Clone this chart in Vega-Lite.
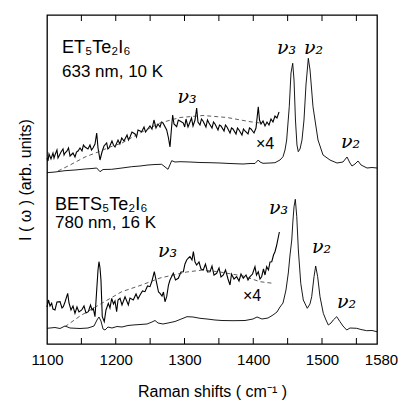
{
  "$schema": "https://vega.github.io/schema/vega-lite/v6.json",
  "width": 330,
  "height": 329,
  "autosize": {"type": "none"},
  "padding": {"left": 47, "top": 15, "right": 21, "bottom": 60},
  "background": "white",
  "config": {
    "view": {"stroke": "#000", "strokeWidth": 1.3},
    "axis": {"grid": false, "labelFont": "Liberation Sans", "titleFont": "Liberation Sans", "labelColor": "#000", "titleColor": "#000", "tickColor": "#000"},
    "text": {"font": "Liberation Sans", "color": "#000"}
  },
  "datasets": {
    "spectra": [
      {"s":"ET1","x":1100,"y":171.3},{"s":"ET1","x":1111.6,"y":172},{"s":"ET1","x":1126.2,"y":173.3},{"s":"ET1","x":1140.7,"y":174},{"s":"ET1","x":1155.3,"y":175},{"s":"ET1","x":1165.5,"y":175.5},{"s":"ET1","x":1172.3,"y":176},{"s":"ET1","x":1177.1,"y":172.3},{"s":"ET1","x":1181.5,"y":174.5},{"s":"ET1","x":1194.1,"y":174.7},{"s":"ET1","x":1209.1,"y":176},{"s":"ET1","x":1223.2,"y":177.3},{"s":"ET1","x":1235.3,"y":178},{"s":"ET1","x":1246.9,"y":179},{"s":"ET1","x":1257.1,"y":179.5},{"s":"ET1","x":1266.8,"y":179.7},{"s":"ET1","x":1276,"y":174.7},{"s":"ET1","x":1281.4,"y":183.3},{"s":"ET1","x":1286.2,"y":182},{"s":"ET1","x":1293.5,"y":182.3},{"s":"ET1","x":1308,"y":182},{"s":"ET1","x":1322.5,"y":181.5},{"s":"ET1","x":1337.1,"y":181.3},{"s":"ET1","x":1351.6,"y":181},{"s":"ET1","x":1366.2,"y":180.5},{"s":"ET1","x":1385.1,"y":180},{"s":"ET1","x":1395.3,"y":180.5},{"s":"ET1","x":1402.5,"y":180.5},{"s":"ET1","x":1407.3,"y":184},{"s":"ET1","x":1409.8,"y":182},{"s":"ET1","x":1414.2,"y":180.7},{"s":"ET1","x":1424.4,"y":181},{"s":"ET1","x":1431.6,"y":181.3},{"s":"ET1","x":1438.9,"y":184},{"s":"ET1","x":1443.3,"y":187.3},{"s":"ET1","x":1446.2,"y":194},{"s":"ET1","x":1448.6,"y":204},{"s":"ET1","x":1452.4,"y":237.3},{"s":"ET1","x":1454.9,"y":271},{"s":"ET1","x":1457.4,"y":280.7},{"s":"ET1","x":1459.3,"y":264},{"s":"ET1","x":1461.4,"y":224},{"s":"ET1","x":1463.6,"y":199},{"s":"ET1","x":1465.5,"y":192.3},{"s":"ET1","x":1468,"y":195},{"s":"ET1","x":1470.9,"y":204},{"s":"ET1","x":1473.8,"y":224},{"s":"ET1","x":1476.7,"y":259},{"s":"ET1","x":1480.1,"y":285.7},{"s":"ET1","x":1482.6,"y":274},{"s":"ET1","x":1486.9,"y":237.3},{"s":"ET1","x":1494.2,"y":204},{"s":"ET1","x":1501.5,"y":189},{"s":"ET1","x":1511.6,"y":184},{"s":"ET1","x":1521.8,"y":181},{"s":"ET1","x":1530.5,"y":182},{"s":"ET1","x":1536.4,"y":187},{"s":"ET1","x":1540.7,"y":181},{"s":"ET1","x":1543.6,"y":178},{"s":"ET1","x":1548,"y":180},{"s":"ET1","x":1552.4,"y":183},{"s":"ET1","x":1556.8,"y":179},{"s":"ET1","x":1565.5,"y":176},{"s":"ET1","x":1572.7,"y":176.5},{"s":"ET1","x":1580,"y":176},

      {"s":"ET4","x":1100,"y":186},{"s":"ET4","x":1101.5,"y":183},{"s":"ET4","x":1102.9,"y":190},{"s":"ET4","x":1105.8,"y":185},{"s":"ET4","x":1108.7,"y":191},{"s":"ET4","x":1110.2,"y":186},{"s":"ET4","x":1111.6,"y":189},{"s":"ET4","x":1114.5,"y":194},{"s":"ET4","x":1116,"y":186},{"s":"ET4","x":1117.5,"y":188},{"s":"ET4","x":1120.4,"y":192},{"s":"ET4","x":1123.3,"y":195},{"s":"ET4","x":1124.8,"y":189},{"s":"ET4","x":1126.2,"y":191},{"s":"ET4","x":1129.1,"y":193},{"s":"ET4","x":1131.3,"y":196},{"s":"ET4","x":1133.5,"y":188},{"s":"ET4","x":1137.8,"y":191},{"s":"ET4","x":1140.7,"y":187},{"s":"ET4","x":1142.9,"y":192},{"s":"ET4","x":1145.1,"y":193},{"s":"ET4","x":1148,"y":196},{"s":"ET4","x":1150.9,"y":193},{"s":"ET4","x":1153,"y":199},{"s":"ET4","x":1155.3,"y":197},{"s":"ET4","x":1159.6,"y":195},{"s":"ET4","x":1162.5,"y":199},{"s":"ET4","x":1164.7,"y":194},{"s":"ET4","x":1166.9,"y":196},{"s":"ET4","x":1169.8,"y":200},{"s":"ET4","x":1172.3,"y":211},{"s":"ET4","x":1174.2,"y":196},{"s":"ET4","x":1177.1,"y":184},{"s":"ET4","x":1180,"y":192},{"s":"ET4","x":1182.9,"y":198},{"s":"ET4","x":1186.8,"y":201},{"s":"ET4","x":1188.5,"y":195},{"s":"ET4","x":1190.2,"y":196},{"s":"ET4","x":1194.5,"y":203},{"s":"ET4","x":1196.7,"y":199},{"s":"ET4","x":1198.9,"y":197},{"s":"ET4","x":1203.3,"y":204},{"s":"ET4","x":1206,"y":200},{"s":"ET4","x":1208.7,"y":206},{"s":"ET4","x":1212,"y":203},{"s":"ET4","x":1216.4,"y":209},{"s":"ET4","x":1218.5,"y":204},{"s":"ET4","x":1220.7,"y":207},{"s":"ET4","x":1223.6,"y":212},{"s":"ET4","x":1228,"y":210},{"s":"ET4","x":1230.2,"y":207},{"s":"ET4","x":1232.4,"y":214},{"s":"ET4","x":1237.7,"y":212.3},{"s":"ET4","x":1241.1,"y":217},{"s":"ET4","x":1243.3,"y":212},{"s":"ET4","x":1245.5,"y":214},{"s":"ET4","x":1249.8,"y":218},{"s":"ET4","x":1252.7,"y":215},{"s":"ET4","x":1255.6,"y":224},{"s":"ET4","x":1258.5,"y":216},{"s":"ET4","x":1261.5,"y":220},{"s":"ET4","x":1264.4,"y":217},{"s":"ET4","x":1266.5,"y":222},{"s":"ET4","x":1268.7,"y":221},{"s":"ET4","x":1274.1,"y":214},{"s":"ET4","x":1276.7,"y":206},{"s":"ET4","x":1278.9,"y":197},{"s":"ET4","x":1281.1,"y":216},{"s":"ET4","x":1282.8,"y":229},{"s":"ET4","x":1284.7,"y":220},{"s":"ET4","x":1288.6,"y":217.3},{"s":"ET4","x":1291,"y":224},{"s":"ET4","x":1293.5,"y":223},{"s":"ET4","x":1298.3,"y":221},{"s":"ET4","x":1300.3,"y":217},{"s":"ET4","x":1302.2,"y":225},{"s":"ET4","x":1305.1,"y":217},{"s":"ET4","x":1308,"y":222},{"s":"ET4","x":1310.2,"y":226},{"s":"ET4","x":1312.4,"y":218},{"s":"ET4","x":1315.3,"y":224},{"s":"ET4","x":1317.7,"y":236},{"s":"ET4","x":1319.6,"y":222},{"s":"ET4","x":1322.5,"y":219},{"s":"ET4","x":1324.7,"y":225},{"s":"ET4","x":1326.9,"y":223},{"s":"ET4","x":1331.2,"y":217},{"s":"ET4","x":1333.4,"y":224},{"s":"ET4","x":1335.6,"y":221},{"s":"ET4","x":1340,"y":216},{"s":"ET4","x":1342.2,"y":222},{"s":"ET4","x":1344.4,"y":220},{"s":"ET4","x":1348.7,"y":214},{"s":"ET4","x":1350.9,"y":219},{"s":"ET4","x":1353.1,"y":218},{"s":"ET4","x":1357.5,"y":213},{"s":"ET4","x":1359.6,"y":219},{"s":"ET4","x":1361.8,"y":217},{"s":"ET4","x":1366.2,"y":211},{"s":"ET4","x":1368.4,"y":216},{"s":"ET4","x":1370.5,"y":215},{"s":"ET4","x":1374.9,"y":210},{"s":"ET4","x":1377.1,"y":216},{"s":"ET4","x":1379.3,"y":214},{"s":"ET4","x":1383.6,"y":209},{"s":"ET4","x":1385.8,"y":215},{"s":"ET4","x":1388,"y":213},{"s":"ET4","x":1392.4,"y":210},{"s":"ET4","x":1394.5,"y":216},{"s":"ET4","x":1396.7,"y":215},{"s":"ET4","x":1401.1,"y":211},{"s":"ET4","x":1404,"y":216},{"s":"ET4","x":1407.3,"y":237.3},{"s":"ET4","x":1409.1,"y":224},{"s":"ET4","x":1411.3,"y":220},{"s":"ET4","x":1414.2,"y":223},{"s":"ET4","x":1417.1,"y":218},{"s":"ET4","x":1420,"y":222},{"s":"ET4","x":1422.9,"y":219},{"s":"ET4","x":1425.8,"y":225},{"s":"ET4","x":1428.7,"y":222},{"s":"ET4","x":1431.6,"y":228},{"s":"ET4","x":1434.5,"y":226},{"s":"ET4","x":1437.5,"y":232},

      {"s":"BE1","x":1100,"y":15.7},{"s":"BE1","x":1111.6,"y":16.5},{"s":"BE1","x":1118.9,"y":15.5},{"s":"BE1","x":1126.2,"y":18},{"s":"BE1","x":1133.5,"y":16},{"s":"BE1","x":1148,"y":15.5},{"s":"BE1","x":1159.6,"y":16},{"s":"BE1","x":1168.4,"y":18},{"s":"BE1","x":1172.7,"y":24},{"s":"BE1","x":1175.6,"y":27},{"s":"BE1","x":1178.5,"y":23},{"s":"BE1","x":1181.5,"y":15},{"s":"BE1","x":1184.4,"y":14},{"s":"BE1","x":1188.7,"y":17},{"s":"BE1","x":1194.5,"y":16},{"s":"BE1","x":1201.8,"y":17.5},{"s":"BE1","x":1209.1,"y":17},{"s":"BE1","x":1217.8,"y":18.5},{"s":"BE1","x":1225.1,"y":19},{"s":"BE1","x":1235.3,"y":19.5},{"s":"BE1","x":1245.5,"y":20},{"s":"BE1","x":1252.7,"y":22},{"s":"BE1","x":1257.1,"y":23.5},{"s":"BE1","x":1261.5,"y":21},{"s":"BE1","x":1268.7,"y":20},{"s":"BE1","x":1276,"y":21},{"s":"BE1","x":1286.2,"y":22.5},{"s":"BE1","x":1293.5,"y":24.5},{"s":"BE1","x":1303.6,"y":27.3},{"s":"BE1","x":1312.4,"y":27},{"s":"BE1","x":1322.5,"y":25.7},{"s":"BE1","x":1332.7,"y":25},{"s":"BE1","x":1344.4,"y":24},{"s":"BE1","x":1354.5,"y":23.5},{"s":"BE1","x":1370.5,"y":23.3},{"s":"BE1","x":1388,"y":23.5},{"s":"BE1","x":1399.6,"y":25},{"s":"BE1","x":1405.5,"y":27},{"s":"BE1","x":1412.7,"y":25},{"s":"BE1","x":1421.5,"y":26},{"s":"BE1","x":1428.7,"y":29},{"s":"BE1","x":1434.5,"y":32},{"s":"BE1","x":1438.9,"y":37},{"s":"BE1","x":1443.3,"y":41},{"s":"BE1","x":1447.6,"y":54},{"s":"BE1","x":1451,"y":71},{"s":"BE1","x":1453.5,"y":89},{"s":"BE1","x":1456,"y":104},{"s":"BE1","x":1457.8,"y":124},{"s":"BE1","x":1459.3,"y":137.3},{"s":"BE1","x":1461.2,"y":144.7},{"s":"BE1","x":1463.3,"y":127.3},{"s":"BE1","x":1465.6,"y":94},{"s":"BE1","x":1469.1,"y":60.7},{"s":"BE1","x":1472.8,"y":44},{"s":"BE1","x":1478.6,"y":35.7},{"s":"BE1","x":1482.5,"y":40},{"s":"BE1","x":1485,"y":47.3},{"s":"BE1","x":1488.4,"y":67.3},{"s":"BE1","x":1490.8,"y":78},{"s":"BE1","x":1493.7,"y":67.3},{"s":"BE1","x":1497.1,"y":47.3},{"s":"BE1","x":1501.9,"y":30.7},{"s":"BE1","x":1505.8,"y":24},{"s":"BE1","x":1509.2,"y":19},{"s":"BE1","x":1513.1,"y":21},{"s":"BE1","x":1516.4,"y":24},{"s":"BE1","x":1521.4,"y":27.3},{"s":"BE1","x":1526.2,"y":22.3},{"s":"BE1","x":1530.5,"y":18},{"s":"BE1","x":1535.9,"y":14},{"s":"BE1","x":1540.7,"y":16},{"s":"BE1","x":1550.4,"y":15.7},{"s":"BE1","x":1556.7,"y":14.5},{"s":"BE1","x":1565,"y":13.3},{"s":"BE1","x":1572.7,"y":13.5},{"s":"BE1","x":1580,"y":12.3},

      {"s":"BE4","x":1100,"y":37},{"s":"BE4","x":1102.2,"y":44},{"s":"BE4","x":1104.4,"y":38},{"s":"BE4","x":1106.8,"y":40.7},{"s":"BE4","x":1108.7,"y":35},{"s":"BE4","x":1111.6,"y":34},{"s":"BE4","x":1114.5,"y":42},{"s":"BE4","x":1118.9,"y":42.3},{"s":"BE4","x":1121.8,"y":36},{"s":"BE4","x":1123.7,"y":37.3},{"s":"BE4","x":1126.2,"y":42},{"s":"BE4","x":1130.1,"y":50.7},{"s":"BE4","x":1132,"y":41},{"s":"BE4","x":1134.9,"y":34},{"s":"BE4","x":1137.8,"y":38},{"s":"BE4","x":1140.7,"y":30.7},{"s":"BE4","x":1143.6,"y":37},{"s":"BE4","x":1146.5,"y":32},{"s":"BE4","x":1150.5,"y":34},{"s":"BE4","x":1153.8,"y":38},{"s":"BE4","x":1156.7,"y":31},{"s":"BE4","x":1160.1,"y":32.3},{"s":"BE4","x":1163.3,"y":39},{"s":"BE4","x":1165.5,"y":34},{"s":"BE4","x":1167.3,"y":35.7},{"s":"BE4","x":1169.8,"y":27.3},{"s":"BE4","x":1172.3,"y":54},{"s":"BE4","x":1174.2,"y":74},{"s":"BE4","x":1175.6,"y":82.3},{"s":"BE4","x":1177.1,"y":76},{"s":"BE4","x":1178.5,"y":64},{"s":"BE4","x":1180.4,"y":27.3},{"s":"BE4","x":1183.3,"y":22.3},{"s":"BE4","x":1185.8,"y":34},{"s":"BE4","x":1189.2,"y":40.7},{"s":"BE4","x":1191.6,"y":36},{"s":"BE4","x":1194.1,"y":45.7},{"s":"BE4","x":1196.7,"y":40},{"s":"BE4","x":1198.9,"y":43},{"s":"BE4","x":1201.3,"y":32.3},{"s":"BE4","x":1203.3,"y":44},{"s":"BE4","x":1206.2,"y":45.7},{"s":"BE4","x":1209.1,"y":39},{"s":"BE4","x":1213.5,"y":47.3},{"s":"BE4","x":1218.3,"y":39},{"s":"BE4","x":1220.7,"y":46},{"s":"BE4","x":1225.5,"y":44},{"s":"BE4","x":1229.5,"y":50},{"s":"BE4","x":1232.4,"y":45},{"s":"BE4","x":1235.3,"y":49},{"s":"BE4","x":1238.9,"y":53},{"s":"BE4","x":1242.5,"y":52.3},{"s":"BE4","x":1246.2,"y":58},{"s":"BE4","x":1249.8,"y":57.3},{"s":"BE4","x":1252.7,"y":63},{"s":"BE4","x":1256.1,"y":72.3},{"s":"BE4","x":1259.6,"y":60.7},{"s":"BE4","x":1262.2,"y":52},{"s":"BE4","x":1264.4,"y":50.7},{"s":"BE4","x":1267.3,"y":48},{"s":"BE4","x":1269.4,"y":52},{"s":"BE4","x":1271.6,"y":42.3},{"s":"BE4","x":1274.1,"y":47.3},{"s":"BE4","x":1276.7,"y":59},{"s":"BE4","x":1278.9,"y":64},{"s":"BE4","x":1283.7,"y":70.7},{"s":"BE4","x":1286.9,"y":64},{"s":"BE4","x":1291,"y":65.7},{"s":"BE4","x":1294.9,"y":72},{"s":"BE4","x":1298.3,"y":72.3},{"s":"BE4","x":1300.7,"y":80},{"s":"BE4","x":1303.2,"y":84},{"s":"BE4","x":1305.8,"y":86},{"s":"BE4","x":1308,"y":87.3},{"s":"BE4","x":1310.9,"y":84},{"s":"BE4","x":1312.9,"y":92.3},{"s":"BE4","x":1315.3,"y":82},{"s":"BE4","x":1317.7,"y":79},{"s":"BE4","x":1321.1,"y":82},{"s":"BE4","x":1324,"y":75},{"s":"BE4","x":1327.3,"y":74},{"s":"BE4","x":1330.5,"y":80},{"s":"BE4","x":1333.4,"y":72},{"s":"BE4","x":1337.1,"y":72.3},{"s":"BE4","x":1340,"y":78},{"s":"BE4","x":1342.9,"y":69},{"s":"BE4","x":1346.8,"y":70.7},{"s":"BE4","x":1350.2,"y":76},{"s":"BE4","x":1353.1,"y":67},{"s":"BE4","x":1356.5,"y":69},{"s":"BE4","x":1359.7,"y":74},{"s":"BE4","x":1363.3,"y":65},{"s":"BE4","x":1366.2,"y":59},{"s":"BE4","x":1368.4,"y":70},{"s":"BE4","x":1372,"y":65},{"s":"BE4","x":1375.9,"y":67.3},{"s":"BE4","x":1379.3,"y":63},{"s":"BE4","x":1382.2,"y":70},{"s":"BE4","x":1385.5,"y":65.7},{"s":"BE4","x":1389.5,"y":69},{"s":"BE4","x":1392.4,"y":64},{"s":"BE4","x":1395.3,"y":67.3},{"s":"BE4","x":1398.9,"y":70},{"s":"BE4","x":1402.5,"y":77.3},{"s":"BE4","x":1404.7,"y":69},{"s":"BE4","x":1407.3,"y":72.3},{"s":"BE4","x":1409.8,"y":65},{"s":"BE4","x":1412.2,"y":67.3},{"s":"BE4","x":1414.9,"y":75},{"s":"BE4","x":1417.1,"y":69},{"s":"BE4","x":1419.5,"y":77.3},{"s":"BE4","x":1422.1,"y":74},{"s":"BE4","x":1424.4,"y":82},{"s":"BE4","x":1426.9,"y":82.3},{"s":"BE4","x":1429.5,"y":89},{"s":"BE4","x":1431.6,"y":92.3},{"s":"BE4","x":1433.8,"y":98},{"s":"BE4","x":1436.5,"y":107},{"s":"BE4","x":1438,"y":112}
    ],
    "fits": [
      {"s":"ETf","x":1116,"y":173},{"s":"ETf","x":1133.5,"y":179},{"s":"ETf","x":1155.3,"y":187},{"s":"ETf","x":1174.2,"y":192},{"s":"ETf","x":1191.6,"y":197},{"s":"ETf","x":1209.1,"y":201},{"s":"ETf","x":1235.3,"y":211},{"s":"ETf","x":1264.4,"y":221},{"s":"ETf","x":1293.5,"y":226.5},{"s":"ETf","x":1326.9,"y":228.5},{"s":"ETf","x":1361.8,"y":226.5},{"s":"ETf","x":1395.3,"y":222.3},{"s":"ETf","x":1409.8,"y":221},
      {"s":"BEf","x":1126.2,"y":17.3},{"s":"BEf","x":1148,"y":28},{"s":"BEf","x":1179.6,"y":40.7},{"s":"BEf","x":1208.7,"y":52.3},{"s":"BEf","x":1237.7,"y":59},{"s":"BEf","x":1264.4,"y":66},{"s":"BEf","x":1303.2,"y":72},{"s":"BEf","x":1326.9,"y":74},{"s":"BEf","x":1351.6,"y":72},{"s":"BEf","x":1385.1,"y":68},{"s":"BEf","x":1409.8,"y":62.3},{"s":"BEf","x":1428.7,"y":60.7}
    ],
    "ticks": [
      {"x":1150},{"x":1200},{"x":1250},{"x":1300},{"x":1350},{"x":1400},{"x":1450},{"x":1500},{"x":1550}
    ],
    "notes": [
      {"g":"formula","t":"ET₅Te₂I₆","x":1121.8,"y":296},
      {"g":"cond","t":"633 nm, 10 K","x":1121.8,"y":272.3},
      {"g":"formula","t":"BETS₅Te₂I₆","x":1111.6,"y":139},
      {"g":"cond","t":"780 nm, 16 K","x":1111.6,"y":121},
      {"g":"times","t":"×4","x":1417.1,"y":200},
      {"g":"times","t":"×4","x":1398.2,"y":48},
      {"g":"nu","t":"ν₃","x":1303.6,"y":241},
      {"g":"nu","t":"ν₃","x":1448.4,"y":290},
      {"g":"nu","t":"ν₂","x":1487.6,"y":290},
      {"g":"nu","t":"ν₂","x":1541.4,"y":196},
      {"g":"nu","t":"ν₃","x":1275.3,"y":87},
      {"g":"nu","t":"ν₃","x":1436.7,"y":130},
      {"g":"nu","t":"ν₂","x":1499.3,"y":91},
      {"g":"nu","t":"ν₂","x":1535.6,"y":36}
    ]
  },
  "layer": [
    {
      "data": {"name": "spectra"},
      "transform": [{"filter": "datum.s == 'ET1' || datum.s == 'BE1'"}],
      "mark": {"type": "line", "color": "#000", "strokeWidth": 0.9},
      "encoding": {
        "x": {"field": "x", "type": "quantitative", "scale": {"domain": [1100, 1580], "nice": false, "zero": false},
          "axis": {"orient": "bottom", "values": [1100,1200,1300,1400,1500,1580], "format": "d",
            "ticks": false, "domain": false, "labelFontSize": 15, "labelPadding": 8, "labelFlush": false, "labelOverlap": false,
            "labelOffset": {"condition": {"test": "datum.value == 1580", "value": 4}, "value": 0},
            "title": "Raman shifts ( cm⁻¹ )", "titleFontSize": 16, "titleFontWeight": "normal", "titlePadding": 16}},
        "y": {"field": "y", "type": "quantitative", "scale": {"domain": [0, 329], "nice": false, "zero": false},
          "axis": {"ticks": false, "labels": false, "domain": false, "title": "I ( ω )  (arb. units)", "titleFontSize": 16, "titleFontWeight": "normal", "titlePadding": 14}},
        "detail": {"field": "s"}
      }
    },
    {
      "data": {"name": "spectra"},
      "transform": [{"filter": "datum.s == 'ET4' || datum.s == 'BE4'"}],
      "mark": {"type": "line", "color": "#000", "strokeWidth": 1.1},
      "encoding": {
        "x": {"field": "x", "type": "quantitative"},
        "y": {"field": "y", "type": "quantitative"},
        "detail": {"field": "s"}
      }
    },
    {
      "data": {"name": "fits"},
      "mark": {"type": "line", "color": "#333", "strokeWidth": 0.8, "strokeDash": [4, 3]},
      "encoding": {
        "x": {"field": "x", "type": "quantitative"},
        "y": {"field": "y", "type": "quantitative"},
        "detail": {"field": "s"}
      }
    },
    {
      "data": {"name": "ticks"},
      "mark": {"type": "rule", "color": "#000", "strokeWidth": 1},
      "encoding": {
        "x": {"field": "x", "type": "quantitative"},
        "y": {"datum": 0, "type": "quantitative"},
        "y2": {"datum": 6}
      }
    },
    {
      "data": {"name": "ticks"},
      "mark": {"type": "rule", "color": "#000", "strokeWidth": 1},
      "encoding": {
        "x": {"field": "x", "type": "quantitative"},
        "y": {"datum": 323, "type": "quantitative"},
        "y2": {"datum": 329}
      }
    },
    {
      "mark": {"type": "rule", "color": "#777", "strokeWidth": 1.2},
      "encoding": {"y": {"datum": 156, "type": "quantitative"}}
    },
    {
      "data": {"name": "notes"},
      "transform": [{"filter": "datum.g == 'formula'"}],
      "mark": {"type": "text", "align": "left", "baseline": "middle", "fontSize": 18},
      "encoding": {
        "x": {"field": "x", "type": "quantitative"},
        "y": {"field": "y", "type": "quantitative"},
        "text": {"field": "t"}
      }
    },
    {
      "data": {"name": "notes"},
      "transform": [{"filter": "datum.g == 'cond'"}],
      "mark": {"type": "text", "align": "left", "baseline": "middle", "fontSize": 17},
      "encoding": {
        "x": {"field": "x", "type": "quantitative"},
        "y": {"field": "y", "type": "quantitative"},
        "text": {"field": "t"}
      }
    },
    {
      "data": {"name": "notes"},
      "transform": [{"filter": "datum.g == 'times'"}],
      "mark": {"type": "text", "align": "center", "baseline": "middle", "fontSize": 16},
      "encoding": {
        "x": {"field": "x", "type": "quantitative"},
        "y": {"field": "y", "type": "quantitative"},
        "text": {"field": "t"}
      }
    },
    {
      "data": {"name": "notes"},
      "transform": [{"filter": "datum.g == 'nu'"}],
      "mark": {"type": "text", "align": "center", "baseline": "alphabetic", "fontSize": 19, "font": "DejaVu Serif", "fontStyle": "italic"},
      "encoding": {
        "x": {"field": "x", "type": "quantitative"},
        "y": {"field": "y", "type": "quantitative"},
        "text": {"field": "t"}
      }
    }
  ]
}
